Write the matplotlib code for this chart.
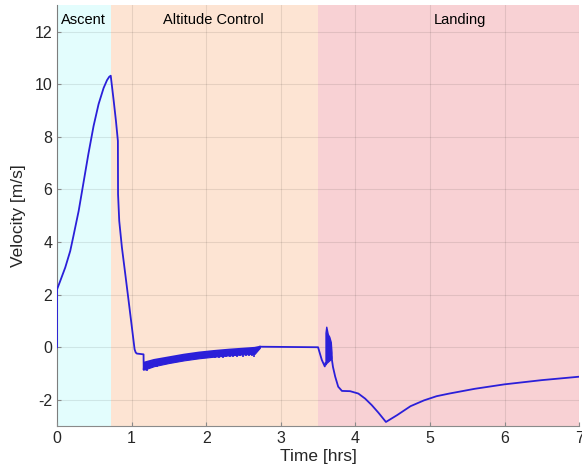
import matplotlib.pyplot as plt

# phase boundaries [hrs]
phase_names = ["Ascent", "Altitude Control", "Landing"]
phase_start = [0.0, 0.72, 3.50]
phase_end = [0.72, 3.50, 7.0]
phase_colors = ["#e3fdfd", "#fde4d3", "#f8d1d4"]
phase_label_x = [0.35, 2.1, 5.4]

# velocity trace (time [hrs], velocity [m/s])
t_main = [0.0, 0.0, 0.043, 0.11, 0.177, 0.22, 0.29, 0.355, 0.42, 0.49, 0.557,
          0.624, 0.67, 0.70, 0.72, 0.76, 0.79, 0.816, 0.818, 0.834, 0.87,
          0.915, 0.96, 1.004, 1.04, 1.055, 1.07, 1.16, 1.162, 1.17]
v_main = [0.0, 2.2, 2.52, 3.03, 3.66, 4.23, 5.18, 6.26, 7.34, 8.41, 9.24,
          9.85, 10.15, 10.28, 10.32, 9.36, 8.6, 7.84, 5.82, 4.8, 3.79,
          2.78, 1.76, 0.75, -0.08, -0.2, -0.24, -0.27, -0.86, -0.6]

# oscillating band during altitude control
t_band = [1.17, 1.3, 1.5, 1.7, 1.9, 2.1, 2.3, 2.5, 2.65, 2.72]
v_band_hi = [-0.58, -0.48, -0.38, -0.28, -0.2, -0.14, -0.09, -0.05, -0.02, 0.02]
v_band_lo = [-0.85, -0.72, -0.6, -0.5, -0.42, -0.36, -0.31, -0.27, -0.25, -0.02]

# downward spikes below the band
t_teeth = [1.2, 1.27, 1.34, 1.41, 1.48, 1.55, 1.62, 1.69, 1.76, 1.83, 1.89,
           1.95, 2.01, 2.07, 2.12, 2.17, 2.22, 2.27, 2.32, 2.36, 2.41, 2.45,
           2.49, 2.53, 2.57, 2.61, 2.64]
v_teeth = [-0.92, -0.8, -0.74, -0.68, -0.62, -0.6, -0.56, -0.52, -0.5, -0.47,
           -0.46, -0.44, -0.42, -0.41, -0.4, -0.39, -0.4, -0.37, -0.38, -0.36,
           -0.37, -0.35, -0.36, -0.34, -0.35, -0.33, -0.36]
v_teeth_top = [-0.6, -0.55, -0.5, -0.47, -0.43, -0.4, -0.37, -0.33, -0.3, -0.27,
               -0.25, -0.23, -0.21, -0.19, -0.18, -0.17, -0.15, -0.14, -0.13,
               -0.12, -0.11, -0.1, -0.09, -0.08, -0.07, -0.06, -0.05]

t_hold = [2.72, 3.50, 3.55, 3.59, 3.60]
v_hold = [0.02, 0.0, -0.48, -0.73, -0.6]

# oscillation burst at start of landing
t_burst = [3.60, 3.61, 3.63, 3.65, 3.67, 3.68]
v_burst_hi = [0.55, 0.78, 0.5, 0.4, 0.2, -0.2]
v_burst_lo = [-0.65, -0.6, -0.55, -0.5, -0.45, -0.4]

t_land = [3.68, 3.70, 3.73, 3.77, 3.82, 3.93, 4.04, 4.13, 4.22, 4.31, 4.41,
          4.56, 4.74, 4.92, 5.09, 5.26, 5.6, 6.0, 6.5, 7.0]
v_land = [-0.36, -0.75, -1.12, -1.5, -1.66, -1.67, -1.76, -1.95, -2.2, -2.49, -2.84,
          -2.58, -2.24, -2.02, -1.86, -1.76, -1.58, -1.41, -1.25, -1.12]

line_color = "#2b1fd9"

plt.rcParams['font.family'] = ['Liberation Sans', 'DejaVu Sans']
plt.rcParams['axes.unicode_minus'] = False
fig = plt.figure(figsize=(5.82, 4.73), dpi=100)
ax = fig.add_axes([0.098, 0.099, 0.897, 0.89])

for name, a, b, c, lx in zip(phase_names, phase_start, phase_end, phase_colors, phase_label_x):
    ax.axvspan(a, b, color=c, lw=0, zorder=0)
    ax.text(lx, 12.45, name, ha='center', va='center', fontsize=10.5, color='black')

ax.plot(t_main, v_main, color=line_color, lw=1.3, zorder=3)
ax.fill_between(t_band, v_band_lo, v_band_hi, color=line_color, lw=0.8, zorder=3)
ax.plot(t_band, v_band_hi, color=line_color, lw=1.3, zorder=3)
ax.vlines(t_teeth, v_teeth, v_teeth_top, color=line_color, lw=1.2, zorder=3)
ax.plot(t_hold, v_hold, color=line_color, lw=1.3, zorder=3)
ax.fill_between(t_burst, v_burst_lo, v_burst_hi, color=line_color, lw=1.0, zorder=3)
ax.plot(t_land, v_land, color=line_color, lw=1.3, zorder=3)

ax.set_xlim(0, 7)
ax.set_ylim(-3, 13)
ax.set_xticks(range(0, 8))
ax.set_yticks(range(-2, 13, 2))
ax.grid(True, color='black', alpha=0.09, lw=0.8)
ax.set_axisbelow(False)
for s in ['top', 'right']:
    ax.spines[s].set_visible(False)
for s in ['left', 'bottom']:
    ax.spines[s].set_color('#8a8a8a')
ax.tick_params(direction='in', length=3, colors='#8a8a8a', labelcolor='#262626', labelsize=11.5)
ax.set_xlabel("Time [hrs]", fontsize=12.5, color='#262626', labelpad=2)
ax.set_ylabel("Velocity [m/s]", fontsize=12.5, color='#262626', labelpad=6)

fig.savefig("out.png", dpi=100)
